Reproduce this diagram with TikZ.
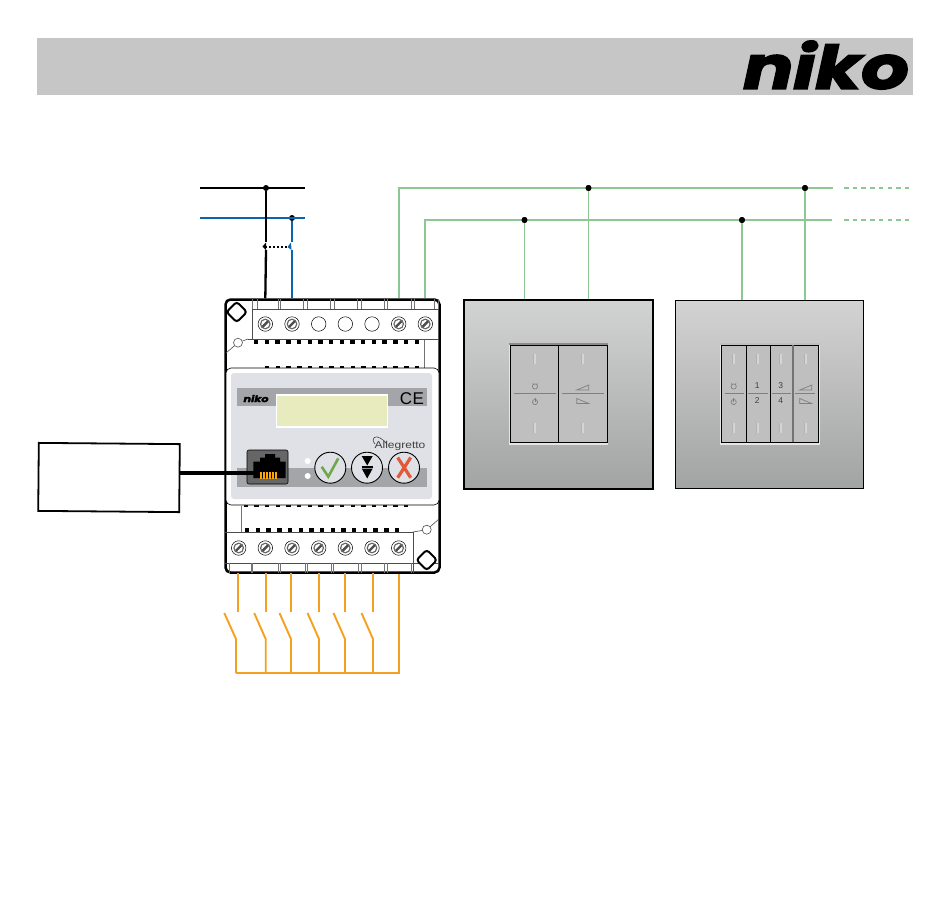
\documentclass[tikz,border=0pt]{standalone}
\usepackage{fontspec}
\setmainfont{Liberation Sans}
\newfontfamily\logofont[BoldItalicFeatures={FakeBold=2.5}]{Poppins}
\tikzset{
  x=1pt, y=-1pt,
  blackwire/.style={line width=2.3pt, black},
  bluewire/.style={line width=2.3pt, color=busblue},
  greenwire/.style={line width=1.9pt, color=busgreen},
  orangewire/.style={line width=1.9pt, color=swiorange},
  dot/.style={circle, fill=black, inner sep=0pt, minimum size=6pt},
  screw/.style={circle, draw=black, line width=.5pt, fill=white, inner sep=0pt, minimum size=14.5pt},
  opening/.style={circle, draw=black, line width=.5pt, fill=white, inner sep=0pt, minimum size=14.5pt},
  tick/.style={line width=.6pt, color=black!55},
  hairline/.style={line width=.6pt, color=black!70},
  rocker/.style={line width=.7pt, color=black!50},
  button/.style={circle, draw=black, line width=.9pt, fill=panelgray, inner sep=0pt, minimum size=31pt},
  mount/.style={draw=black, line width=2pt, fill=white, rounded corners=3pt, rotate=45, inner sep=0pt, minimum size=14.5pt},
  plate/.style={rectangle, top color=plateup, bottom color=platedown, inner sep=0pt},
  legend/.style={font=\fontsize{8.5}{8.5}\selectfont, text=black!75, inner sep=0pt},
  pics/clocksym/.style={code={
    \draw[rocker] (0,0) circle (2.6pt);
    \draw[rocker] (-2.4,-3) -- (-1.2,-2) (2.4,-3) -- (1.2,-2);
  }},
  pics/powersym/.style={code={
    \draw[rocker] (0,0) circle (2.6pt);
    \draw[rocker] (0,-4) -- (0,0);
  }},
  pics/rampup/.style={code={
    \draw[rocker] (-6,2.5) -- (6,2.5) -- (6,-2.5) -- cycle;
  }},
  pics/rampdown/.style={code={
    \draw[rocker] (-6,2.5) -- (6,2.5) -- (-6,-2.5) -- cycle;
  }},
  pics/slit/.style={code={
    \draw[line width=2.4pt, color=white!35!rockergray] (0,-5) -- (0,5);
    \draw[line width=.5pt, color=black!30] (-1.3,-5) -- (-1.3,5);
  }}
}
\definecolor{headgray}{HTML}{C5C6C5}
\definecolor{busblue}{HTML}{0A64AE}
\definecolor{busgreen}{HTML}{8CC894}
\definecolor{swiorange}{HTML}{F5A01E}
\definecolor{panelgray}{HTML}{E0E1E6}
\definecolor{stripgray}{HTML}{A3A5A8}
\definecolor{lcdgreen}{HTML}{E8EBBE}
\definecolor{plateup}{HTML}{D2D3D2}
\definecolor{platedown}{HTML}{A2A3A3}
\definecolor{rockergray}{HTML}{BEBFBE}
\definecolor{okgreen}{HTML}{72A84C}
\definecolor{escred}{HTML}{E2593A}
\newcommand{\screwhead}[1]{
  \fill[black!60] (#1.center) circle (5.4pt);
  \fill[white] (#1.center) circle (4pt);
  \draw[line width=2.4pt, black!70] ([shift={(-2.8,2.8)}]#1.center) -- ([shift={(2.8,-2.8)}]#1.center);
}
\begin{document}
\begin{tikzpicture}
  \useasboundingbox (0,0) rectangle (950,905);
  % header
  \fill[headgray] (37,38) rectangle (913,95);
  \node[inner sep=0pt, xscale=1.24] (logo) at (826,65) {\logofont\fontsize{60}{60}\selectfont\bfseries\itshape niko};

  % device
  \node[draw=black, line width=2.5pt, rounded corners=5pt, minimum width=214pt, minimum height=273pt, inner sep=0pt] (dev) at (332.5,436) {};
  \draw[hairline] (252,299) -- (252,339) (252,309) -- (439,309) (248,339) -- (439,339);
  \draw[hairline] (225,532) -- (413,532) (413,532) -- (413,573) (225,563) -- (439,563);
  \draw[tick] (424,340) -- (424,368) (241,506) -- (241,532);
  \foreach \x in {252,257,278,280,303,307,330,334,357,361,384,387,411,414,434,438}
    \draw[tick] (\x,299) -- (\x,309);
  \foreach \x in {229,251,252,278,280,305,307,331,333,358,361,384,387,411}
    \draw[tick] (\x,563) -- (\x,573);
  % clamps
  \foreach \i/\x in {1/265.3,2/292,6/398.7,7/425.3}{
    \node[screw] (top\i) at (\x,324) {};
    \screwhead{top\i}
  }
  \foreach \i/\x in {3/318.7,4/345.3,5/372}
    \node[opening] (top\i) at (\x,324) {};
  \foreach \i/\x in {1/238.7,2/265.3,3/292,4/318.7,5/345.3,6/372,7/398.7}{
    \node[screw] (bot\i) at (\x,548) {};
    \screwhead{bot\i}
  }
  % vents
  \foreach \i in {0,...,15}{
    \fill (254+\i*10.7,340) rectangle ++(4.4,4.4);
    \fill (243.5+\i*10.7,507) rectangle ++(4.4,-3);
  }
  \foreach \i in {0,...,14}{
    \fill (265+\i*10.7,365.5) rectangle ++(4.4,2.5);
    \fill (245+\i*10.7,528) rectangle ++(4.4,4.4);
  }
  % mounting
  \node[mount] (mounta) at (236.7,312) {};
  \node[mount] (mountb) at (426.7,560) {};
  \node[circle, draw=black!70, line width=.6pt, inner sep=0pt, minimum size=9pt] (hola) at (238,342.7) {};
  \node[circle, draw=black!70, line width=.6pt, inner sep=0pt, minimum size=9pt] (holb) at (426.7,529.7) {};
  \draw[hairline] (226,353) -- (hola) (hola) -- (248,339);
  \draw[hairline] (413,532) -- (holb) (holb) -- (439,519);

  % front
  \draw[line width=.6pt, fill=white, rounded corners=5pt] (226,368) rectangle (439,505);
  \fill[panelgray, rounded corners=3pt] (231,373) rectangle (432,499);
  \fill[stripgray] (237,388) rectangle (427,406);
  \fill[stripgray] (237,468) rectangle (427,487);
  \node[draw=white, line width=1.5pt, fill=lcdgreen, minimum width=111pt, minimum height=32pt, inner sep=0pt] (lcd) at (332,411) {};
  \node[inner sep=0pt, xscale=1.25] (brand) at (256,398.5) {\logofont\fontsize{9}{9}\selectfont\bfseries\itshape niko};
  \node[inner sep=0pt] (ce) at (412,398.5) {\fontsize{17}{17}\selectfont C\kern.5pt E};
  \node[inner sep=0pt, text=black!75, xscale=1.2] (allegretto) at (400,446) {\fontsize{10}{10}\selectfont Allegretto};
  \draw[line width=.6pt, black!75] (375,444) .. controls (370,438) and (376,435) .. (380,438) .. controls (383,440) and (385,441) .. (387,444);

  % jack
  \node[draw=black, line width=.6pt, fill=black!60, rounded corners=2pt, minimum width=41pt, minimum height=34pt, inner sep=0pt] (jack) at (267.5,467) {};
  \fill (253.3,478) -- (253.3,461.7) -- (260,461.7) -- (260,457.7) -- (265,457.7) -- (265,454) -- (275,454) -- (275,457.7) -- (280,457.7) -- (280,461.7) -- (285.7,461.7) -- (285.7,478) -- cycle;
  \foreach \i in {0,...,5}
    \fill[color=orange!70!yellow] (260.3+\i*3,472) rectangle ++(1.7,7);

  % leds and buttons
  \node[circle, fill=white, inner sep=0pt, minimum size=6pt] (leda) at (307.7,461) {};
  \node[circle, fill=white, inner sep=0pt, minimum size=6pt] (ledb) at (307.7,476) {};
  \node[button] (ok) at (330.3,467.7) {};
  \node[button] (down) at (367,467.7) {};
  \node[button] (esc) at (404,467.7) {};
  \draw[line width=2.6pt, color=okgreen] (321.7,466.7) -- (328.3,476.7) -- (338.3,458.3);
  \fill (361.7,456) -- (372.7,456) -- (367.2,465.5) -- cycle;
  \fill (361.7,468.5) -- (372.7,468.5) -- (367.2,478.5) -- cycle;
  \draw[line width=1.5pt] (361.7,467) -- (372.7,467);
  \draw[line width=3.2pt, color=escred] (397.7,457.5) -- (410.7,477.7) (410.7,457.5) -- (397.7,477.7);

  % mains
  \coordinate (la) at (200,188);
  \coordinate (lb) at (305,188);
  \coordinate (na) at (200,218);
  \coordinate (nb) at (305,218);
  \node[dot] (ldot) at (266,188) {};
  \node[dot] (ndot) at (292,218) {};
  \draw[blackwire] (la) -- (lb);
  \draw[bluewire] (na) -- (nb);
  \coordinate (lopen) at (266,242);
  \coordinate (lclose) at (266,250);
  \coordinate (nopen) at (292,242);
  \coordinate (nclose) at (292,250);
  \draw[blackwire] (ldot) -- (lopen);
  \draw[blackwire] (lclose) -- (top1 |- dev.north);
  \draw[bluewire] (ndot) -- (nopen);
  \draw[bluewire] (nclose) -- (top2 |- dev.north);
  \fill (266,242.5) -- (262.5,246.5) -- (266,250) -- cycle;
  \fill[busblue] (291,242.5) -- (287.5,247) -- (291.5,250) -- cycle;
  \draw[line width=1.5pt, dash pattern=on 2pt off 2pt] (265,247) -- (288,247);

  % bus
  \node[dot] (busa) at (588.5,188) {};
  \node[dot] (busb) at (805,188) {};
  \node[dot] (busc) at (524.5,220) {};
  \node[dot] (busd) at (742,220) {};
  \coordinate (enda) at (832.5,188);
  \coordinate (endb) at (831.5,220);
  \coordinate (heada) at (844,188);
  \coordinate (headb) at (844,220);
  \coordinate (taila) at (911,188);
  \coordinate (tailb) at (911,220);
  \draw[greenwire] (top6 |- dev.north) |- (enda);
  \draw[greenwire] (top7 |- dev.north) |- (endb);
  \draw[greenwire, dash pattern=on 4.5pt off 4.2pt] (heada) -- (taila);
  \draw[greenwire, dash pattern=on 4.5pt off 4.2pt] (headb) -- (tailb);

  % plates
  \node[plate, draw=black, line width=1.6pt, minimum width=189pt, minimum height=189pt] (plateL) at (558.7,394.5) {};
  \node[plate, draw=black, line width=.9pt, minimum width=188pt, minimum height=188pt] (plateR) at (769.8,394) {};
  \draw[greenwire] (busc) -- (busc |- plateL.north);
  \draw[greenwire] (busa) -- (busa |- plateL.north);
  \draw[greenwire] (busd) -- (busd |- plateR.north);
  \draw[greenwire] (busb) -- (busb |- plateR.north);
  \node[dot] (busa2) at (busa) {};
  \node[dot] (busb2) at (busb) {};
  \node[dot] (busc2) at (busc) {};
  \node[dot] (busd2) at (busd) {};

  % double rocker
  \fill[white!80!gray] (509,343) rectangle (608,445);
  \fill[black!45] (509,342.5) rectangle (608,345);
  \node[draw=black, line width=1.3pt, fill=rockergray, minimum width=97pt, minimum height=97pt, inner sep=0pt] (rockL) at (558.7,394.2) {};
  \draw[line width=1.1pt] (rockL.north) -- (rockL.south);
  \draw[rocker] (514,393.7) -- (556,393.7) (562,393.7) -- (604,393.7);
  \foreach \x in {535,582.7}
    \foreach \y in {359,428}
      \pic at (\x,\y) {slit};
  \pic at (535,386.5) {clocksym};
  \pic at (535,402) {powersym};
  \pic at (582.7,387.5) {rampup};
  \pic at (582.7,401) {rampdown};

  % quad rocker
  \fill[white!80!gray] (720,343) rectangle (820,445);
  \fill[black!25] (720,342.5) rectangle (820,345);
  \node[draw=black, line width=.9pt, fill=rockergray, minimum width=96.5pt, minimum height=97pt, inner sep=0pt] (rockR) at (770,393.5) {};
  \draw[line width=.9pt] (746,345) -- (746,442) (770,345) -- (770,442);
  \draw[line width=1.3pt, black!55] (793,345) -- (793,442);
  \draw[rocker] (725,393.7) -- (744,393.7) (748,393.7) -- (768,393.7) (772,393.7) -- (791,393.7) (795,393.7) -- (815,393.7);
  \foreach \x in {733.7,758,781,805.7}
    \foreach \y in {359,428}
      \pic at (\x,\y) {slit};
  \pic at (733.7,386.5) {clocksym};
  \pic at (733.7,402) {powersym};
  \pic at (805.7,387.5) {rampup};
  \pic at (805.7,401) {rampdown};
  \node[legend] (one) at (757.3,386) {1};
  \node[legend] (two) at (757.3,401) {2};
  \node[legend] (three) at (780.7,386) {3};
  \node[legend] (four) at (780.7,401) {4};

  % pc box and cable
  \node[draw=black, line width=1.8pt, fill=white, minimum width=141pt, minimum height=68pt, inner sep=0pt, rotate=-.5] (pc) at (109,477.5) {};
  \coordinate (plug) at (255,473);
  \draw[line width=3.6pt] (pc.east |- plug) -- (plug);

  % inputs
  \coordinate (rail) at (236,673);
  \foreach \i/\x in {1/237.7,2/265.7,3/291,4/319,5/345,6/373}{
    \coordinate (hinge\i) at (\x,639);
    \draw[orangewire] (\x,573) -- (\x,611.5);
  }
  \draw[orangewire] (224.3,613) -- (236,639) -- (rail);
  \foreach \i/\x in {2/265.7,3/291,4/319,5/345,6/373}{
    \draw[orangewire] (\x-11.5,613) -- (hinge\i) -- (\x,673);
  }
  \draw[orangewire] (bot7 |- dev.south) -- (398.7,673) -- (rail);
\end{tikzpicture}
\end{document}
